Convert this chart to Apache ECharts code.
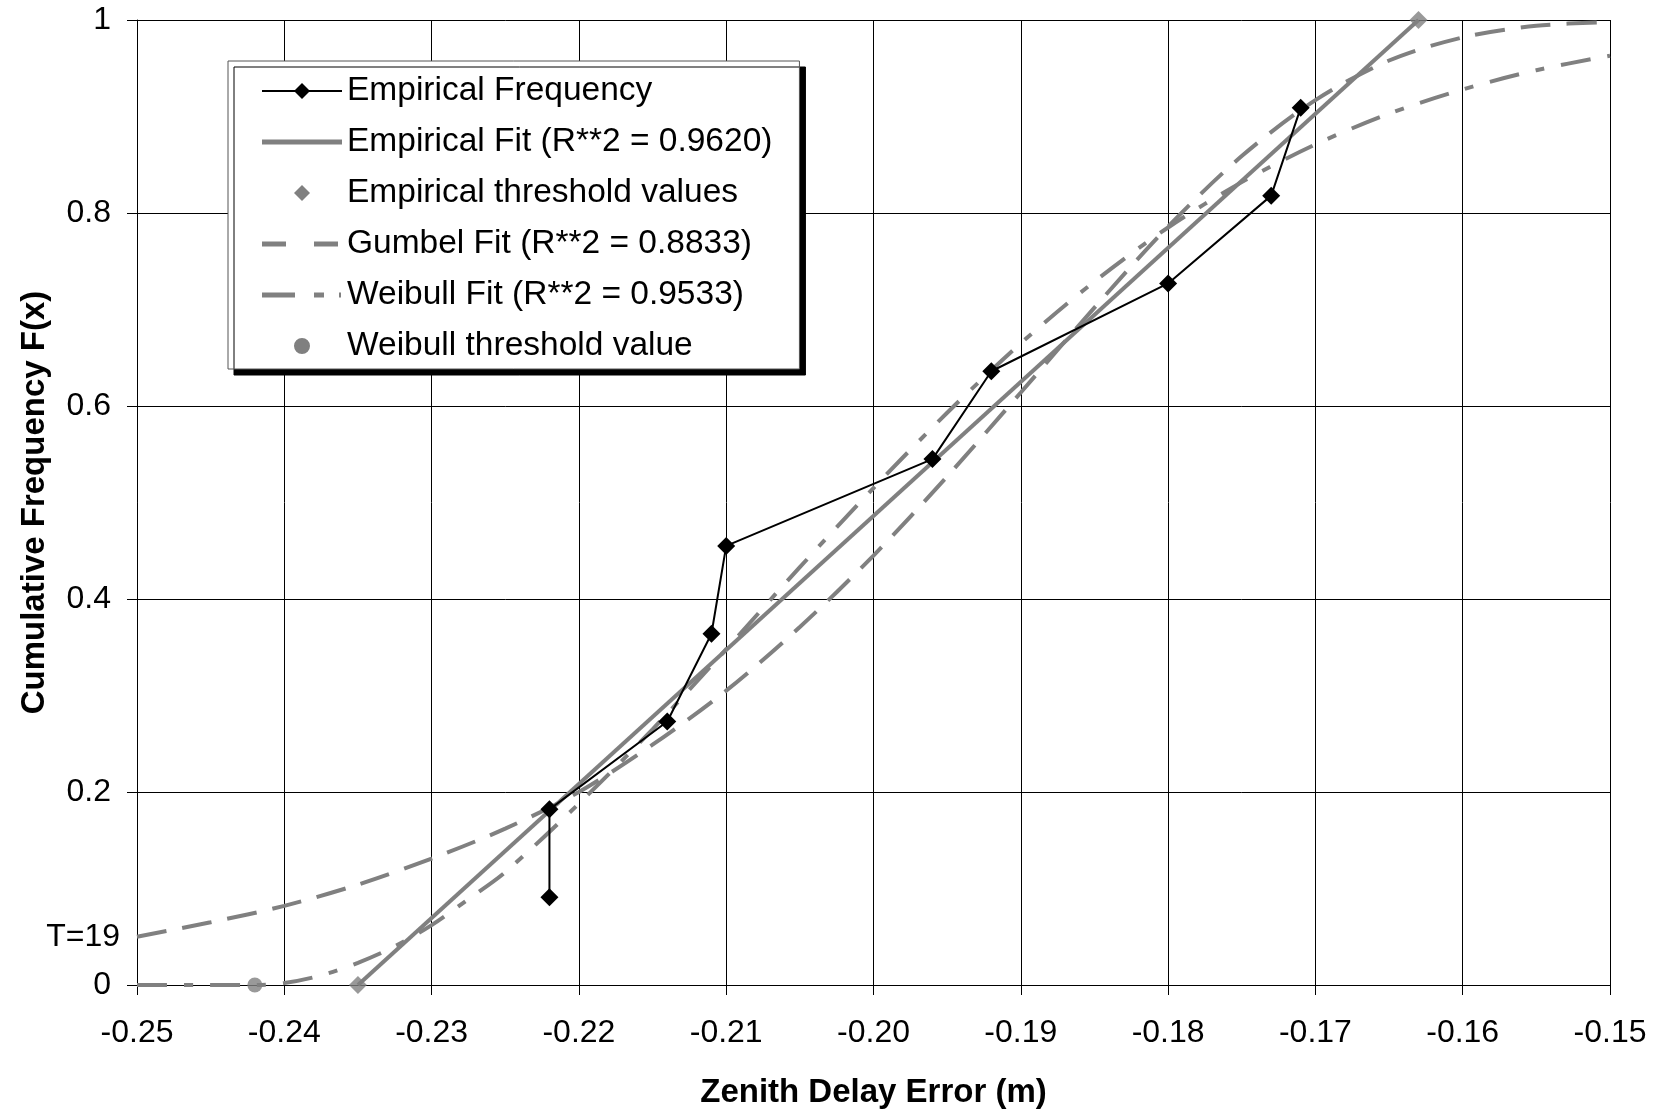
<!DOCTYPE html>
<html>
<head>
<meta charset="utf-8">
<script src="https://cdn.jsdelivr.net/npm/echarts@6/dist/echarts.min.js"></script>
<style>
html,body{margin:0;padding:0;background:#fff;width:1661px;height:1111px;overflow:hidden;}
#chart{width:1661px;height:1111px;}
</style>
</head>
<body>
<div id="chart"></div>
<script>
// ---- data ----
const empFreqX = [-0.222, -0.222, -0.214, -0.211, -0.210, -0.196, -0.192, -0.180, -0.173, -0.171];
const empFreqY = [0.091, 0.182, 0.273, 0.364, 0.455, 0.545, 0.636, 0.727, 0.818, 0.909];

const empFitX = [-0.235, -0.163];
const empFitY = [0, 1];

const empThreshX = [-0.235, -0.163];
const empThreshY = [0, 1];

const gumbelX = [-0.25, -0.245, -0.24, -0.235, -0.23, -0.225, -0.22, -0.215, -0.21, -0.205, -0.20,
                 -0.195, -0.19, -0.185, -0.18, -0.175, -0.17, -0.165, -0.16, -0.155, -0.15];
const gumbelY = [0.050, 0.065, 0.082, 0.104, 0.131, 0.162, 0.200, 0.249, 0.305, 0.371, 0.445,
                 0.527, 0.614, 0.702, 0.786, 0.859, 0.917, 0.958, 0.982, 0.994, 0.998];

const weibullX = [-0.25, -0.245, -0.242, -0.24, -0.2375, -0.235, -0.2325, -0.23, -0.2275, -0.225, -0.22,
                  -0.215, -0.21, -0.205, -0.20, -0.195, -0.19, -0.185, -0.18, -0.175, -0.17,
                  -0.165, -0.16, -0.155, -0.15];
const weibullY = [0, 0, 0, 0.002, 0.010, 0.023, 0.040, 0.062, 0.089, 0.117, 0.188,
                  0.265, 0.348, 0.433, 0.515, 0.593, 0.665, 0.729, 0.785, 0.832, 0.871,
                  0.903, 0.928, 0.948, 0.963];

const weibullThreshX = [-0.242];
const weibullThreshY = [0];

const seriesNames = [
  'Empirical Frequency',
  'Empirical Fit (R**2 = 0.9620)',
  'Empirical threshold values',
  'Gumbel Fit (R**2 = 0.8833)',
  'Weibull Fit (R**2 = 0.9533)',
  'Weibull threshold value'
];
const xTitle = 'Zenith Delay Error (m)';
const yTitle = 'Cumulative Frequency F(x)';
const returnLabel = 'T=19';
const returnLabelValue = 0.05;

const zip = (xs, ys) => xs.map((x, i) => [x, ys[i]]);

const FONT = '"Liberation Sans", Arial, sans-serif';
const GRAY = '#808080';

// legend icon shapes (80 x 16 box; the corner points fix the box)
const BOX = 'M0,0L0,0Z M80,16L80,16Z ';
const legendIcons = [
  'path://' + BOX + 'M0,7H80V9H0Z M40,0L48,8L40,16L32,8Z',
  'path://' + BOX + 'M0,5.5H80V10.5H0Z',
  'path://' + BOX + 'M40,0L48,8L40,16L32,8Z',
  'path://' + BOX + 'M0,5.5H24V10.5H0Z M52,5.5H76V10.5H52Z',
  'path://' + BOX + 'M0,5.5H33V10.5H0Z M52,5.5H62V10.5H52Z M77,5.5H79V10.5H77Z',
  'path://' + BOX + 'M32,8A8,8 0 1,0 48,8A8,8 0 1,0 32,8Z'
];
const legendColors = ['#000000', GRAY, GRAY, GRAY, GRAY, GRAY];

const chart = echarts.init(document.getElementById('chart'), null, {renderer: 'canvas', width: 1661, height: 1111});
chart.setOption({
  backgroundColor: '#ffffff',
  animation: false,
  textStyle: {fontFamily: FONT},
  grid: {left: 137, right: 51, top: 20, bottom: 126, containLabel: false, outerBoundsMode: 'none'},
  legend: {
    orient: 'vertical',
    left: 228,
    top: 61,
    data: seriesNames.map((n, i) => ({
      name: n,
      icon: legendIcons[i],
      itemStyle: {color: legendColors[i], borderWidth: 0, opacity: 1}
    })),
    backgroundColor: '#ffffff',
    borderColor: '#555555',
    borderWidth: 1,
    shadowColor: '#000000',
    shadowBlur: 0,
    shadowOffsetX: 6,
    shadowOffsetY: 6,
    padding: [13, 27, 6, 34],
    itemWidth: 80,
    itemHeight: 16,
    itemGap: 17,
    symbolKeepAspect: false,
    selectedMode: false,
    textStyle: {fontFamily: FONT, fontSize: 33.5, color: '#000'}
  },
  xAxis: {
    type: 'value',
    min: -0.25,
    max: -0.15,
    interval: 0.01,
    name: xTitle,
    nameLocation: 'middle',
    nameGap: 91,
    nameTextStyle: {fontFamily: FONT, fontSize: 33, fontWeight: 'bold', color: '#000'},
    axisLine: {show: true, onZero: false, lineStyle: {color: '#000', width: 1}},
    axisTick: {show: true, inside: false, length: 10, lineStyle: {color: '#000'}},
    axisLabel: {fontFamily: FONT, fontSize: 32, color: '#000', margin: 32,
      formatter: v => v.toFixed(2)},
    splitLine: {show: true, lineStyle: {color: '#000', width: 1}}
  },
  yAxis: [{
    type: 'value',
    min: 0,
    max: 1,
    interval: 0.2,
    name: yTitle,
    nameLocation: 'middle',
    nameGap: 86,
    nameTextStyle: {fontFamily: FONT, fontSize: 33, fontWeight: 'bold', color: '#000'},
    axisLine: {show: true, lineStyle: {color: '#000', width: 1}},
    axisTick: {show: true, inside: false, length: 10, lineStyle: {color: '#000'}},
    axisLabel: {fontFamily: FONT, fontSize: 32, color: '#000', margin: 26,
      formatter: v => String(Math.round(v * 10) / 10)},
    splitLine: {show: true, lineStyle: {color: '#000', width: 1}}
  }, {
    type: 'value',
    position: 'left',
    min: 0,
    max: 1,
    interval: 0.05,
    axisLine: {show: false},
    axisTick: {show: false},
    splitLine: {show: false},
    axisLabel: {fontFamily: FONT, fontSize: 32, color: '#000', margin: 17,
      formatter: v => (Math.abs(v - returnLabelValue) < 1e-6 ? returnLabel : '')}
  }],
  series: [
    {
      name: seriesNames[0], type: 'line', z: 10,
      data: zip(empFreqX, empFreqY),
      symbol: 'diamond', symbolSize: 18,
      itemStyle: {color: '#000'},
      lineStyle: {color: '#000', width: 2}
    },
    {
      name: seriesNames[1], type: 'line', z: 5,
      data: zip(empFitX, empFitY),
      symbol: 'none',
      itemStyle: {color: GRAY},
      lineStyle: {color: GRAY, width: 4}
    },
    {
      name: seriesNames[2], type: 'scatter', z: 6,
      data: zip(empThreshX, empThreshY),
      symbol: 'diamond', symbolSize: 18, clip: false,
      itemStyle: {color: GRAY}
    },
    {
      name: seriesNames[3], type: 'line', z: 4,
      data: zip(gumbelX, gumbelY),
      symbol: 'none', smooth: 0.3,
      itemStyle: {color: GRAY},
      lineStyle: {color: GRAY, width: 4, type: [30, 16]}
    },
    {
      name: seriesNames[4], type: 'line', z: 4,
      data: zip(weibullX, weibullY),
      symbol: 'none', smooth: 0.3,
      itemStyle: {color: GRAY},
      lineStyle: {color: GRAY, width: 4, type: [30, 17, 9, 17]}
    },
    {
      name: seriesNames[5], type: 'scatter', z: 6,
      data: zip(weibullThreshX, weibullThreshY),
      symbol: 'circle', symbolSize: 15, clip: false,
      itemStyle: {color: GRAY}
    }
  ]
});
</script>
</body>
</html>
